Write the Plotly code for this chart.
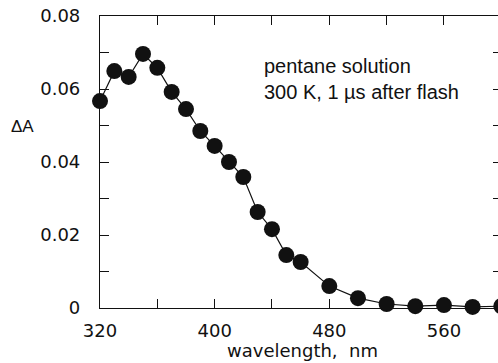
import plotly.graph_objects as go

wavelength = [320, 330, 340, 350, 360, 370, 380, 390, 400, 410, 420, 430, 440,
              450, 460, 480, 500, 520, 540, 560, 580, 600]
delta_a = [0.0567, 0.0649, 0.0633, 0.0696, 0.0658, 0.0592, 0.0545, 0.0485,
           0.0444, 0.0400, 0.0359, 0.0263, 0.0216, 0.0145, 0.0126, 0.0060,
           0.0027, 0.0011, 0.0005, 0.0008, 0.0003, 0.0005]

x_tickvals = [320, 360, 400, 440, 480, 520, 560, 600]
x_ticktext = ["320", "", "400", "", "480", "", "560", ""]
y_tickvals = [0, 0.01, 0.02, 0.03, 0.04, 0.05, 0.06, 0.07, 0.08]
y_ticktext = ["0", "", "0.02", "", "0.04", "", "0.06", "", "0.08"]

ink = "#111111"
tick_font = dict(family="DejaVu Sans", size=18, color=ink)

fig = go.Figure()
fig.add_trace(go.Scatter(
    x=wavelength, y=delta_a, mode="lines+markers",
    line=dict(color=ink, width=1.2),
    marker=dict(color=ink, size=16),
    cliponaxis=False, showlegend=False, hoverinfo="skip",
))

# the figure is slightly wider than the window: its right frame edge falls
# just outside the view, as in the reference
fig.update_layout(
    width=502, height=363,
    margin=dict(l=100, r=0, t=16, b=55),
    paper_bgcolor="white", plot_bgcolor="white",
    xaxis=dict(
        range=[320, 600.5], tickvals=x_tickvals, ticktext=x_ticktext,
        ticks="inside", ticklen=9, tickwidth=1, tickcolor=ink,
        showline=True, linecolor=ink, linewidth=1.2, mirror="ticks",
        showgrid=False, zeroline=False, tickfont=tick_font,
        ticklabelstandoff=6, automargin=False, ticklabeloverflow="allow",
    ),
    yaxis=dict(
        range=[0, 0.08], tickvals=y_tickvals, ticktext=y_ticktext,
        ticks="inside", ticklen=9, tickwidth=1, tickcolor=ink,
        showline=True, linecolor=ink, linewidth=1.2, mirror="ticks",
        showgrid=False, zeroline=False, tickfont=tick_font,
        ticklabelstandoff=15, automargin=False, ticklabeloverflow="allow",
    ),
    annotations=[
        dict(text="ΔA", xref="paper", yref="paper", x=-0.194, y=0.62,
             xanchor="center", yanchor="middle", showarrow=False,
             font=dict(family="Liberation Sans", size=17, color=ink)),
        dict(text="wavelength,\u00a0 nm", xref="paper", yref="paper",
             x=0.503, y=-0.147, xanchor="center", yanchor="middle",
             showarrow=False, font=tick_font),
        dict(text="pentane solution<br>300 K, 1 µs after flash",
             xref="x", yref="y", x=433, y=0.0627, xanchor="left",
             yanchor="middle", align="left", showarrow=False,
             font=dict(family="Liberation Sans", size=20, color=ink)),
    ],
)

fig.write_html(
    "out.html",
    config={"responsive": False, "displayModeBar": False},
    post_script="document.body.style.margin='0';document.body.style.overflow='hidden';",
)
